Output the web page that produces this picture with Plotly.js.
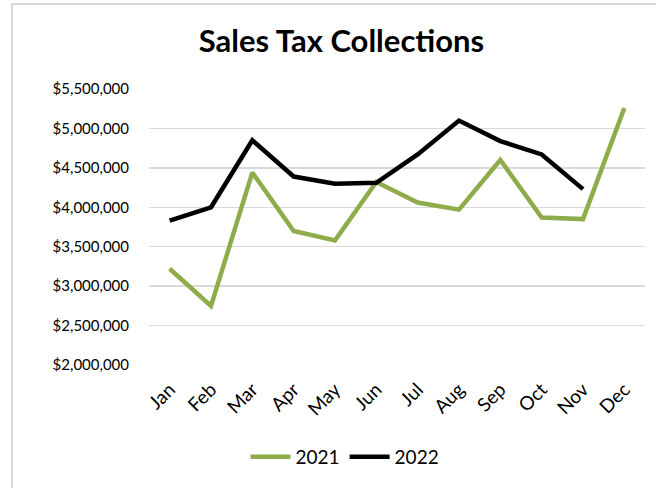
<!DOCTYPE html>
<html>
<head>
<meta charset="utf-8">
<script src="https://cdn.plot.ly/plotly-3.0.1.min.js"></script>
<style>
html,body{margin:0;padding:0;background:#fff;}
#chart{width:656px;height:488px;}
</style>
</head>
<body>
<div id="chart"></div>
<script>
const months = ["Jan","Feb","Mar","Apr","May","Jun","Jul","Aug","Sep","Oct","Nov","Dec"];
const sales2021 = [3220000, 2750000, 4440000, 3700000, 3580000, 4320000, 4060000, 3970000, 4600000, 3870000, 3850000, 5260000];
const sales2022 = [3830000, 4000000, 4850000, 4390000, 4300000, 4310000, 4670000, 5100000, 4840000, 4670000, 4230000];
const yTicks = [2000000, 2500000, 3000000, 3500000, 4000000, 4500000, 5000000, 5500000];

const FONT = "Lato, 'DejaVu Sans', sans-serif";

const traces = [
  {x: months, y: sales2021, name: "2021", type: "scatter", mode: "lines",
   line: {color: "#8fac4b", width: 4.5}},
  {x: months.slice(0, sales2022.length), y: sales2022, name: "2022", type: "scatter", mode: "lines",
   line: {color: "#000000", width: 4.5}}
];

const layout = {
  width: 656, height: 488,
  margin: {l: 149, r: 11, t: 89, b: 123},
  paper_bgcolor: "#ffffff", plot_bgcolor: "#ffffff",
  font: {family: FONT, color: "#000000"},
  title: {text: "<b>Sales Tax Collections</b>", font: {family: FONT, size: 31, color: "#000"},
          xref: "container", x: 341.5/656, xanchor: "center", yref: "container", y: 1 - 41/488, yanchor: "middle"},
  xaxis: {type: "category", range: [-0.5, 11.5], showgrid: false, showline: false, zeroline: false,
          tickangle: -45, tickfont: {family: FONT, size: 19, color: "#000"},
          ticks: "outside", ticklen: 5, tickcolor: "rgba(0,0,0,0)"},
  yaxis: {range: [2000000, 5500000], tickvals: yTicks, tickformat: "$,.0f",
          showgrid: true, gridcolor: "#d9d9d9", gridwidth: 1.5, zeroline: false, showline: false,
          tickfont: {family: FONT, size: 15, color: "#000"},
          ticks: "outside", ticklen: 16, tickcolor: "rgba(0,0,0,0)", fixedrange: true},
  showlegend: true,
  legend: {orientation: "h", x: 345/656, xref: "container", xanchor: "center", y: 1 - 457/488, yref: "container", yanchor: "middle",
           font: {family: FONT, size: 19, color: "#000"}, itemwidth: 40, traceorder: "normal"},
  shapes: [
    {type: "line", xref: "paper", yref: "paper", x0: (12-149)/496, x1: (12-149)/496, y0: 1 + (89-4)/276, y1: -0.5,
     line: {color: "#d9d9d9", width: 2}},
    {type: "line", xref: "paper", yref: "paper", x0: (12-149)/496, x1: 1.05, y0: 1 + (89-4)/276, y1: 1 + (89-4)/276,
     line: {color: "#d9d9d9", width: 2}}
  ]
};

Plotly.newPlot("chart", traces, layout, {displayModeBar: false, staticPlot: true});
</script>
</body>
</html>
